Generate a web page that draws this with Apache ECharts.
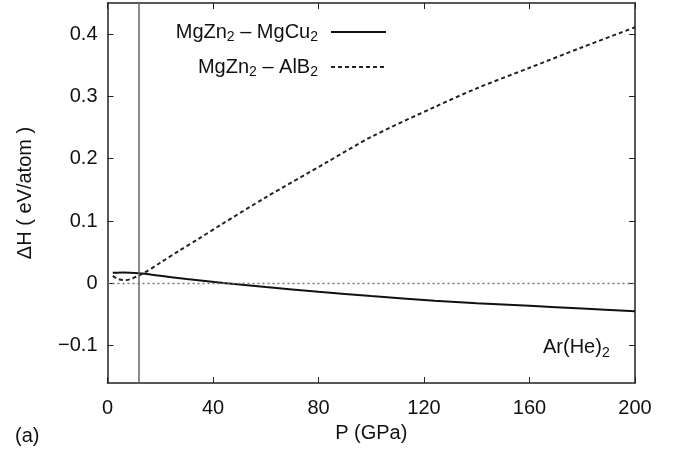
<!DOCTYPE html>
<html>
<head>
<meta charset="utf-8">
<script src="https://cdn.jsdelivr.net/npm/echarts@6/dist/echarts.min.js"></script>
<style>html,body{margin:0;padding:0;background:#fff}#c{width:679px;height:452px}</style>
</head>
<body>
<div id="c"></div>
<script>
const xTicks = [0, 40, 80, 120, 160, 200];
const yTicks = [-0.1, 0, 0.1, 0.2, 0.3, 0.4];
const mgcuP = [2, 6, 12, 20, 30, 44, 60, 80, 100, 124, 140, 160, 180, 200];
const mgcuH = [0.017, 0.0175, 0.016, 0.012, 0.007, 0.0005, -0.006, -0.0135, -0.0205, -0.028, -0.032, -0.036, -0.0405, -0.045];
const alb2P = [2, 4, 6.5, 9, 12, 14, 20, 27, 34, 43, 60, 83, 100, 124, 140, 160, 180, 200];
const alb2H = [0.012, 0.007, 0.005, 0.007, 0.013, 0.017, 0.033, 0.052, 0.070, 0.094, 0.138, 0.194, 0.235, 0.283, 0.313, 0.346, 0.379, 0.411];
const seriesNames = ['MgZn2 – MgCu2', 'MgZn2 – AlB2'];
const legendRich = ['MgZn{s|2} – MgCu{s|2}', 'MgZn{s|2} – AlB{s|2}'];
const markP = 12;

const FONT = 'Liberation Sans, Arial, sans-serif';
const FS = 20;
const axisColor = '#222';
const fmtY = v => v === 0 ? '0' : (v < 0 ? '\u2212' + Math.abs(v).toFixed(1) : v.toFixed(1));

const chart = echarts.init(document.getElementById('c'));
const baseX = {
  type: 'value', min: 0, max: 200, interval: 40,
  axisLine: {show: true, onZero: false, lineStyle: {color: axisColor, width: 1.5}},
  axisTick: {show: true, inside: true, length: 6, lineStyle: {color: axisColor, width: 1}},
  splitLine: {show: false}
};
const baseY = {
  type: 'value', min: -0.16, max: 0.45,
  axisLine: {show: true, onZero: false, lineStyle: {color: axisColor, width: 1.5}},
  axisTick: {show: true, inside: true, length: 6, customValues: yTicks, lineStyle: {color: axisColor, width: 1}},
  splitLine: {show: false}
};
const subRich = {s: {fontSize: 14, fontFamily: FONT, color: '#111', padding: [11, 0, 0, 0]}};
chart.setOption({
  animation: false,
  backgroundColor: '#fff',
  grid: {left: 107.5, right: 44, top: 3, bottom: 69},
  xAxis: [
    Object.assign({}, baseX, {
      position: 'bottom',
      name: 'P (GPa)', nameLocation: 'middle', nameGap: 40,
      nameTextStyle: {fontSize: FS, fontFamily: FONT, color: '#111'},
      axisLabel: {fontSize: FS, fontFamily: FONT, color: '#111', margin: 15, showMinLabel: true, showMaxLabel: true}
    }),
    Object.assign({}, baseX, {position: 'top', axisLabel: {show: false}})
  ],
  yAxis: [
    Object.assign({}, baseY, {
      position: 'left',
      name: '\u0394H ( eV/atom )', nameLocation: 'middle', nameGap: 72,
      nameTextStyle: {fontSize: FS, fontFamily: FONT, color: '#111'},
      axisLabel: {fontSize: FS, fontFamily: FONT, color: '#111', margin: 10, customValues: yTicks, formatter: fmtY}
    }),
    Object.assign({}, baseY, {position: 'right', axisLabel: {show: false}})
  ],
  legend: [0, 1].map(i => ({
    data: [seriesNames[i]],
    right: 679 - 387, top: i === 0 ? 22 : 57,
    padding: 0,
    align: 'right', itemWidth: 55, itemHeight: 14,
    itemStyle: {opacity: 0},
    formatter: () => legendRich[i],
    textStyle: {fontSize: FS, fontFamily: FONT, color: '#111', rich: subRich, padding: [0, 8, 0, 0]},
    selectedMode: false
  })),
  title: [
    {text: '(a)', left: 15, top: 426, padding: 0, textStyle: {fontSize: FS, fontWeight: 'normal', fontFamily: FONT, color: '#111'}},
    {text: 'Ar(He){s|2}', left: 543, top: 335, padding: 0, textStyle: {fontSize: FS, fontWeight: 'normal', fontFamily: FONT, color: '#111', rich: subRich}}
  ],
  series: [
    {
      name: seriesNames[0], type: 'line', smooth: 0.3, symbol: 'none',
      data: mgcuP.map((p, i) => [p, mgcuH[i]]),
      lineStyle: {color: '#111', width: 2},
      itemStyle: {color: '#111'},
      markLine: {
        silent: true, symbol: 'none', label: {show: false},
        data: [
          {yAxis: 0, lineStyle: {color: '#777', type: [2, 3], width: 1.3}},
          {xAxis: markP, lineStyle: {color: '#666', type: 'solid', width: 1.5}}
        ]
      }
    },
    {
      name: seriesNames[1], type: 'line', smooth: 0.3, symbol: 'none',
      data: alb2P.map((p, i) => [p, alb2H[i]]),
      lineStyle: {color: '#222', width: 2, type: [4, 3]},
      itemStyle: {color: '#222'}
    }
  ]
});
</script>
</body>
</html>
